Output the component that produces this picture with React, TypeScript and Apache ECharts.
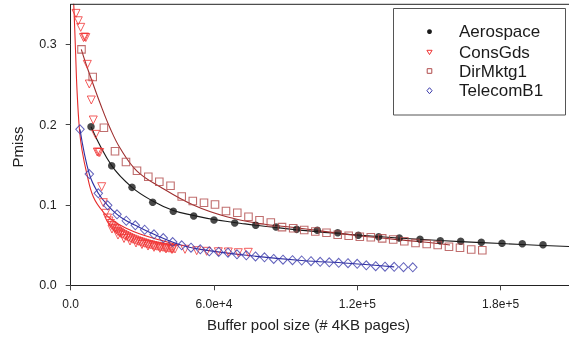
import React, { useEffect, useRef } from "react";
import * as echarts from "echarts";

// ---- Data ----
const aeroX = [8500, 17170, 25670, 34330, 42960, 51500, 60000, 68670, 77460, 85960, 94630, 103250, 111790, 120420, 128960, 137590, 146250, 154750, 163290, 171920, 180590, 189090, 197760];
const aeroY = [0.1975, 0.1489, 0.122, 0.1034, 0.0922, 0.0863, 0.0813, 0.0776, 0.0747, 0.0726, 0.0697, 0.0685, 0.0655, 0.0623, 0.0605, 0.0589, 0.0573, 0.0555, 0.0548, 0.0535, 0.0523, 0.0518, 0.0506];
const aeroFitX = [8500, 17170, 25670, 34330, 42960, 51500, 60000, 73000, 85960, 103000, 120290, 137000, 154620, 172000, 188960, 208640];
const aeroFitY = [0.1975, 0.149, 0.122, 0.105, 0.0931, 0.087, 0.0819, 0.0765, 0.072, 0.0668, 0.0626, 0.059, 0.0558, 0.0532, 0.0508, 0.0483];

const consX = [2220, 3180, 4190, 5360, 5860, 6320, 6950, 7790, 8630, 9460, 10470, 11140, 11640, 12140, 12980, 13650, 14650,
  15410, 16040, 16660, 17290, 17920, 18550, 19180, 19800, 20430, 21060, 21900, 22740, 23570, 24410, 25250, 26080, 26920, 27760, 28600, 29430, 30270, 31110, 31950, 32780, 33620, 34460, 35300, 36130, 36970, 37810, 38650, 39480, 40320, 41160, 42000, 42830, 43670,
  17290, 19800, 22320, 24830, 27340, 29850, 32370, 34880, 37390, 39900, 42410,
  47860, 52760, 56940, 61800, 65990, 70170, 74360];
const consY = [0.3387, 0.3295, 0.3213, 0.3086, 0.3092, 0.3086, 0.2752, 0.2507, 0.2308, 0.2059, 0.188, 0.166, 0.1656, 0.1654, 0.1228, 0.1029, 0.0897,
  0.0838, 0.0801, 0.077, 0.0745, 0.0726, 0.0707, 0.0689, 0.067, 0.0658, 0.0645, 0.0633, 0.062, 0.0608, 0.0595, 0.0583, 0.0573, 0.0564, 0.0554, 0.0545, 0.0537, 0.0529, 0.0522, 0.0514, 0.0508, 0.0502, 0.0496, 0.0489, 0.0486, 0.0481, 0.0477, 0.0472, 0.0468, 0.0465, 0.0461, 0.0458, 0.0456, 0.0452,
  0.0701, 0.0626, 0.0583, 0.0552, 0.0527, 0.0508, 0.0489, 0.0473, 0.0461, 0.0452, 0.0446,
  0.0448, 0.0431, 0.0423, 0.0418, 0.0415, 0.0406, 0.0411];
const consFitX = [1050, 1380, 2010, 2640, 3680, 4730, 6700, 9460, 13650, 18550, 23450, 29020, 37390, 44930];
const consFitY = [0.3615, 0.3429, 0.293, 0.2432, 0.1934, 0.1685, 0.1398, 0.1103, 0.0913, 0.0788, 0.0707, 0.0639, 0.0564, 0.0502];

const dirX = [4520, 9210, 13900, 18550, 23150, 27760, 32490, 37100, 41790, 46480, 51120, 55810, 60420, 65020, 69750, 74440, 79050, 83780, 88470, 93160, 97770, 102410, 107100, 111790, 116400, 121050, 125650, 130420, 135030, 139680, 144370, 149060, 153660, 158390, 163000, 167690, 172340];
const dirY = [0.2939, 0.2594, 0.1963, 0.1669, 0.1535, 0.1427, 0.1352, 0.129, 0.124, 0.1106, 0.105, 0.1029, 0.1006, 0.0925, 0.0904, 0.0854, 0.0811, 0.0782, 0.0724, 0.071, 0.0689, 0.067, 0.0654, 0.063, 0.0618, 0.0605, 0.0599, 0.0585, 0.057, 0.0549, 0.0527, 0.0514, 0.0502, 0.0481, 0.0468, 0.0446, 0.0437];
const dirFitX = [4440, 6410, 8920, 12270, 16460, 20650, 27760, 37390, 51330, 65320, 79260, 94630, 119750, 147630, 158810];
const dirFitY = [0.2939, 0.2756, 0.2544, 0.227, 0.1959, 0.171, 0.1423, 0.1228, 0.1, 0.0854, 0.077, 0.0716, 0.062, 0.0539, 0.0502];

const telX = [3890, 7790, 11560, 15490, 19390, 23280, 27050, 30980, 34880, 38770, 42710, 46480, 50370, 54260, 58030, 61970, 65860, 69630, 73520, 77380, 81140, 85000, 88890, 92870, 96720, 100610, 104460, 108270, 112210, 116100, 119960, 123770, 127700, 131600, 135450, 139340, 143240];
const telY = [0.1943, 0.1386, 0.1146, 0.0996, 0.0884, 0.0804, 0.0747, 0.0692, 0.0635, 0.0589, 0.0539, 0.0498, 0.0468, 0.0448, 0.0423, 0.0415, 0.0406, 0.0386, 0.0374, 0.0359, 0.0349, 0.0328, 0.0319, 0.0313, 0.0309, 0.03, 0.0293, 0.0286, 0.028, 0.0275, 0.0268, 0.0249, 0.0238, 0.0232, 0.023, 0.0225, 0.0224];
const telFitX = [3890, 7790, 11560, 15490, 19390, 23280, 27050, 34880, 46480, 54260, 73520, 96720, 116100, 135450];
const telFitY = [0.1943, 0.1386, 0.1146, 0.0996, 0.0884, 0.0804, 0.0747, 0.0635, 0.0498, 0.0448, 0.0374, 0.0309, 0.0275, 0.023];

const xTicks = [0, 60000, 120000, 180000];
const yTicks = [0, 0.1, 0.2, 0.3];
const legendNames = ["Aerospace", "ConsGds", "DirMktg1", "TelecomB1"];

const FONT = "'Liberation Sans', Arial, Helvetica, sans-serif";
const C_AERO = "#1a1a1a";
const C_CONS = "#f03434";
const C_CONS_LINE = "#e62a2a";
const C_DIR = "#b04a4a";
const C_DIR_LINE = "#9e2e2e";
const C_TEL = "#3b3bab";
const C_TEL_LINE = "#2f2fa2";

const pair = (xs: number[], ys: number[]) => xs.map((x, i) => [x, ys[i]]);

export default function App() {
  const ref = useRef<HTMLDivElement>(null);
  useEffect(() => {
    if (!ref.current) return;
    const chart = echarts.init(ref.current, undefined, { renderer: "svg" });
    const gl = 70.7, gt = 4.3, gb = 285.3;
    const legX = 429.5, legTX = 459;
    const legYs = [31.7, 52.3, 71, 90.7];
    chart.setOption({
      animation: false,
      grid: { left: gl, top: gt, right: 0, bottom: 341 - gb },
      xAxis: {
        type: "value",
        min: 0,
        max: 208640,
        interval: 60000,
        axisLine: { show: true, lineStyle: { color: "#222", width: 1 } },
        axisTick: { show: true, length: 5, customValues: xTicks, lineStyle: { color: "#444" } },
        axisLabel: {
          customValues: xTicks,
          fontFamily: FONT,
          fontSize: 12,
          color: "#222",
          margin: 13,
          formatter: (v: number) => (v === 0 ? "0.0" : v.toExponential(1)),
        },
        splitLine: { show: false },
      },
      yAxis: {
        type: "value",
        min: 0,
        max: 0.35,
        interval: 0.1,
        axisLine: { show: true, lineStyle: { color: "#222", width: 1 } },
        axisTick: { show: true, length: 5, customValues: yTicks, lineStyle: { color: "#444" } },
        axisLabel: {
          customValues: yTicks,
          fontFamily: FONT,
          fontSize: 12.5,
          color: "#222",
          margin: 14,
          formatter: (v: number) => v.toFixed(1),
        },
        splitLine: { show: false },
      },
      series: [
        { name: "Aerospace fit", type: "line", data: pair(aeroFitX, aeroFitY), showSymbol: false, symbol: "none", smooth: 0.4, lineStyle: { color: C_AERO, width: 1.1 }, z: 2 },
        { name: "ConsGds fit", type: "line", data: pair(consFitX, consFitY), showSymbol: false, symbol: "none", smooth: 0.4, lineStyle: { color: C_CONS_LINE, width: 1.1 }, z: 2 },
        { name: "DirMktg1 fit", type: "line", data: pair(dirFitX, dirFitY), showSymbol: false, symbol: "none", smooth: 0.4, lineStyle: { color: C_DIR_LINE, width: 1.1 }, z: 2 },
        { name: "TelecomB1 fit", type: "line", data: pair(telFitX, telFitY), showSymbol: false, symbol: "none", smooth: 0.4, lineStyle: { color: C_TEL_LINE, width: 1.1 }, z: 2 },
        { name: "Aerospace", type: "scatter", data: pair(aeroX, aeroY), symbol: "circle", symbolSize: 7.5, itemStyle: { color: C_AERO }, z: 3 },
        { name: "ConsGds", type: "scatter", data: pair(consX, consY), symbol: "triangle", symbolRotate: 180, symbolSize: 8, itemStyle: { color: "rgba(0,0,0,0)", borderColor: C_CONS, borderWidth: 1 }, z: 3 },
        { name: "DirMktg1", type: "scatter", data: pair(dirX, dirY), symbol: "rect", symbolSize: 7.5, itemStyle: { color: "rgba(0,0,0,0)", borderColor: C_DIR, borderWidth: 1.1 }, z: 3 },
        { name: "TelecomB1", type: "scatter", data: pair(telX, telY), symbol: "diamond", symbolSize: [8.5, 9], itemStyle: { color: "rgba(0,0,0,0)", borderColor: C_TEL, borderWidth: 1 }, z: 3 },
      ],
      graphic: [
        { type: "line", shape: { x1: gl, y1: gt, x2: 569, y2: gt }, style: { stroke: "#222", lineWidth: 1 }, z: 50 },
        { type: "text", x: 308.5, y: 324, style: { text: "Buffer pool size (# 4KB pages)", font: `15px ${FONT}`, fill: "#222", textAlign: "center", textVerticalAlign: "middle" } },
        { type: "text", x: 17.5, y: 147, rotation: Math.PI / 2, style: { text: "Pmiss", font: `15px ${FONT}`, fill: "#222", textAlign: "center", textVerticalAlign: "middle" } },
        { type: "rect", shape: { x: 393.5, y: 8.5, width: 172, height: 106.5 }, style: { fill: "#fff", stroke: "#555", lineWidth: 1 }, z: 100 },
        { type: "circle", shape: { cx: legX, cy: legYs[0], r: 2.4 }, style: { fill: C_AERO }, z: 101 },
        { type: "polygon", shape: { points: [[legX - 2.6, legYs[1] - 2], [legX + 2.6, legYs[1] - 2], [legX, legYs[1] + 2.3]] }, style: { fill: "none", stroke: C_CONS, lineWidth: 1 }, z: 101 },
        { type: "rect", shape: { x: legX - 2.3, y: legYs[2] - 2.3, width: 4.6, height: 4.6 }, style: { fill: "none", stroke: C_DIR, lineWidth: 1 }, z: 101 },
        { type: "polygon", shape: { points: [[legX, legYs[3] - 3], [legX + 2.6, legYs[3]], [legX, legYs[3] + 3], [legX - 2.6, legYs[3]]] }, style: { fill: "none", stroke: C_TEL, lineWidth: 1 }, z: 101 },
        ...legendNames.map((n, i) => ({
          type: "text",
          x: legTX,
          y: legYs[i],
          z: 101,
          style: { text: n, font: `17px ${FONT}`, fill: "#1a1a1a", textAlign: "left", textVerticalAlign: "middle" },
        })),
      ],
    });
    return () => chart.dispose();
  }, []);
  return <div ref={ref} style={{ position: "fixed", left: 0, top: 0, width: 569, height: 341 }} />;
}
